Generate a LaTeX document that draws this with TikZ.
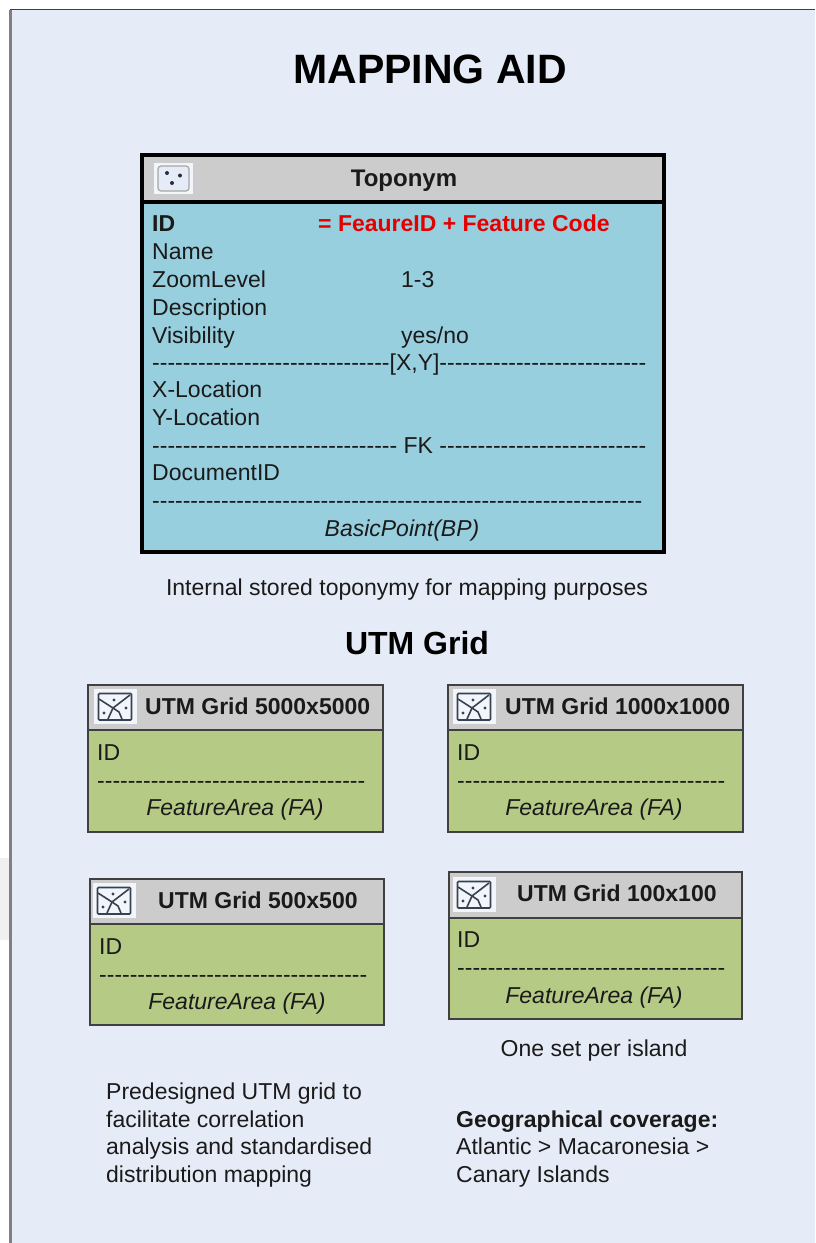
\documentclass[tikz,border=0pt]{standalone}
\usepackage{fontspec}
\setmainfont{Liberation Sans}
\definecolor{pagebg}{HTML}{E6ECF7}
\definecolor{headgray}{HTML}{CCCCCC}
\definecolor{pointblue}{HTML}{98CFDE}
\definecolor{areagreen}{HTML}{B5CA85}
\definecolor{inktext}{HTML}{1A1A1A}
\definecolor{iconblue}{HTML}{36434F}
\definecolor{iconpale}{HTML}{F2F5FB}
\begin{document}
\begin{tikzpicture}[
        x=1pt, y=-1pt,
        % Define styles
        txt/.style={anchor=base west, inner sep=0pt, text=inktext, font=\fontsize{23}{27}\selectfont},
        txtbold/.style={txt, font=\fontsize{23}{27}\selectfont\bfseries},
        txtmid/.style={txt, anchor=base},
        areatxt/.style={txtmid, font=\fontsize{23}{27}\selectfont\itshape},
        heading/.style={anchor=base, inner sep=0pt, text=black, font=\fontsize{32}{36}\selectfont\bfseries},
        headbox/.style={fill=headgray},
        bigbody/.style={fill=pointblue},
        smallbody/.style={fill=areagreen},
        bigframe/.style={draw=black, line width=3.6pt},
        smallframe/.style={draw=black!75, line width=1.4pt},
        dot/.style={circle, fill=iconblue!70!black, inner sep=0pt, minimum size=4pt},
        mapicon/.pic={
            \fill[iconpale] (0,0) rectangle (43,35);
            \draw[iconblue, line width=1.7pt, rounded corners=1pt] (4.5,4.5) rectangle (37.5,31);
            \draw[iconblue, line width=1.6pt] (5,10) -- (19,19) -- (36,6);
            \draw[iconblue, line width=1.6pt] (19,19) -- (14,30);
            \draw[iconblue, line width=1.6pt] (19,19) -- (25,23) -- (28,30);
            \fill[iconblue] (20,11) circle (1.6);
            \fill[iconblue] (10,24) circle (1.6);
            \fill[iconblue] (32,19) circle (1.6);
        }
    ]

        \useasboundingbox (0,0) rectangle (815,1243);

        % --- Page ---
        \fill[black!6] (0,858) rectangle (9,940);
        \fill[pagebg] (11,10) rectangle (815,1243);
        \draw[black!50, line width=2.5pt] (10.5,10) -- (10.5,1243);
        \draw[black!75, line width=1.5pt] (10,9.5) -- (815,9.5);

        \node[heading, font=\fontsize{41}{45}\selectfont\bfseries] (title) at (430,83) {MAPPING AID};

        % --- Toponym box ---
        \fill[headbox] (142,155) rectangle (664,202);
        \fill[bigbody] (142,202) rectangle (664,552);
        \draw[bigframe] (142,155) rectangle (664,552);
        \draw[bigframe] (142,202) -- (664,202);

        % Point icon
        \fill[iconpale] (154,163) rectangle (193,194);
        \draw[black!35, line width=1.2pt, fill=pagebg, rounded corners=3pt] (158,166) rectangle (189,191);
        \node[dot] (icon_a) at (167,173) {};
        \node[dot] (icon_b) at (180,175.5) {};
        \node[dot] (icon_c) at (172,183) {};

        \node[txtmid, font=\fontsize{24}{27}\selectfont\bfseries] (toponym) at (404,186) {Toponym};

        % Fields
        \node[txtbold] (f_id) at (152,231) {ID};
        \node[txtbold, text=red!90!black] (f_code) at (318,231) {= FeaureID + Feature Code};
        \node[txt] (f_name) at (152,259) {Name};
        \node[txt] (f_zoom) at (152,287) {ZoomLevel};
        \node[txt] (f_zoomval) at (401,287) {1-3};
        \node[txt] (f_desc) at (152,315) {Description};
        \node[txt] (f_vis) at (152,343) {Visibility};
        \node[txt] (f_visval) at (401,343) {yes/no};
        \node[txt] (f_sep_xy) at (152,370) {-{}-{}-{}-{}-{}-{}-{}-{}-{}-{}-{}-{}-{}-{}-{}-{}-{}-{}-{}-{}-{}-{}-{}-{}-{}-{}-{}-{}-{}-{}-{}[X,Y]-{}-{}-{}-{}-{}-{}-{}-{}-{}-{}-{}-{}-{}-{}-{}-{}-{}-{}-{}-{}-{}-{}-{}-{}-{}-{}-};
        \node[txt] (f_x) at (152,397) {X-Location};
        \node[txt] (f_y) at (152,425) {Y-Location};
        \node[txt] (f_sep_fk) at (152,453) {-{}-{}-{}-{}-{}-{}-{}-{}-{}-{}-{}-{}-{}-{}-{}-{}-{}-{}-{}-{}-{}-{}-{}-{}-{}-{}-{}-{}-{}-{}-{}- FK -{}-{}-{}-{}-{}-{}-{}-{}-{}-{}-{}-{}-{}-{}-{}-{}-{}-{}-{}-{}-{}-{}-{}-{}-{}-{}-};
        \node[txt] (f_doc) at (152,480) {DocumentID};
        \node[txt] (f_sep_end) at (152,508) {-{}-{}-{}-{}-{}-{}-{}-{}-{}-{}-{}-{}-{}-{}-{}-{}-{}-{}-{}-{}-{}-{}-{}-{}-{}-{}-{}-{}-{}-{}-{}-{}-{}-{}-{}-{}-{}-{}-{}-{}-{}-{}-{}-{}-{}-{}-{}-{}-{}-{}-{}-{}-{}-{}-{}-{}-{}-{}-{}-{}-{}-{}-{}-};
        \node[areatxt] (f_kind) at (402,536) {BasicPoint(BP)};

        \node[txtmid] (topo_note) at (407,595) {Internal stored toponymy for mapping purposes};

        \node[heading] (utm_title) at (417,654) {UTM Grid};

        % --- UTM 5000 ---
        \fill[headbox] (88,685) rectangle (383,730);
        \fill[smallbody] (88,730) rectangle (383,832);
        \draw[smallframe] (88,685) rectangle (383,832);
        \draw[smallframe] (88,730) -- (383,730);
        \pic at (94,689) {mapicon};
        \node[txtbold] (a_head) at (145,714) {UTM Grid 5000x5000};
        \node[txt] (a_id) at (97,760) {ID};
        \node[txt] (a_sep) at (97,788) {-{}-{}-{}-{}-{}-{}-{}-{}-{}-{}-{}-{}-{}-{}-{}-{}-{}-{}-{}-{}-{}-{}-{}-{}-{}-{}-{}-{}-{}-{}-{}-{}-{}-{}-};
        \node[areatxt] (a_kind) at (235,815) {FeatureArea (FA)};

        % --- UTM 1000 ---
        \fill[headbox] (448,685) rectangle (743,730);
        \fill[smallbody] (448,730) rectangle (743,832);
        \draw[smallframe] (448,685) rectangle (743,832);
        \draw[smallframe] (448,730) -- (743,730);
        \pic at (453,689) {mapicon};
        \node[txtbold] (b_head) at (505,714) {UTM Grid 1000x1000};
        \node[txt] (b_id) at (457,760) {ID};
        \node[txt] (b_sep) at (457,788) {-{}-{}-{}-{}-{}-{}-{}-{}-{}-{}-{}-{}-{}-{}-{}-{}-{}-{}-{}-{}-{}-{}-{}-{}-{}-{}-{}-{}-{}-{}-{}-{}-{}-{}-};
        \node[areatxt] (b_kind) at (594,815) {FeatureArea (FA)};

        % --- UTM 500 ---
        \fill[headbox] (90,879) rectangle (384,924);
        \fill[smallbody] (90,924) rectangle (384,1025);
        \draw[smallframe] (90,879) rectangle (384,1025);
        \draw[smallframe] (90,924) -- (384,924);
        \pic at (93,883) {mapicon};
        \node[txtbold] (c_head) at (158,908) {UTM Grid 500x500};
        \node[txt] (c_id) at (99,954) {ID};
        \node[txt] (c_sep) at (99,982) {-{}-{}-{}-{}-{}-{}-{}-{}-{}-{}-{}-{}-{}-{}-{}-{}-{}-{}-{}-{}-{}-{}-{}-{}-{}-{}-{}-{}-{}-{}-{}-{}-{}-{}-};
        \node[areatxt] (c_kind) at (237,1009) {FeatureArea (FA)};

        % --- UTM 100 ---
        \fill[headbox] (449,872) rectangle (742,918);
        \fill[smallbody] (449,918) rectangle (742,1019);
        \draw[smallframe] (449,872) rectangle (742,1019);
        \draw[smallframe] (449,918) -- (742,918);
        \pic at (453,877) {mapicon};
        \node[txtbold] (d_head) at (517,901) {UTM Grid 100x100};
        \node[txt] (d_id) at (457,947) {ID};
        \node[txt] (d_sep) at (457,975) {-{}-{}-{}-{}-{}-{}-{}-{}-{}-{}-{}-{}-{}-{}-{}-{}-{}-{}-{}-{}-{}-{}-{}-{}-{}-{}-{}-{}-{}-{}-{}-{}-{}-{}-};
        \node[areatxt] (d_kind) at (594,1003) {FeatureArea (FA)};

        % --- Notes ---
        \node[txtmid] (island_note) at (594,1056) {One set per island};

        \node[txt] (grid_a) at (106,1099) {Predesigned UTM grid to};
        \node[txt] (grid_b) at (106,1127) {facilitate correlation};
        \node[txt] (grid_c) at (106,1154) {analysis and standardised};
        \node[txt] (grid_d) at (106,1182) {distribution mapping};

        \node[txtbold] (geo_a) at (456,1127) {Geographical coverage:};
        \node[txt] (geo_b) at (456,1154) {Atlantic > Macaronesia >};
        \node[txt] (geo_c) at (456,1182) {Canary Islands};

    \end{tikzpicture}
\end{document}
